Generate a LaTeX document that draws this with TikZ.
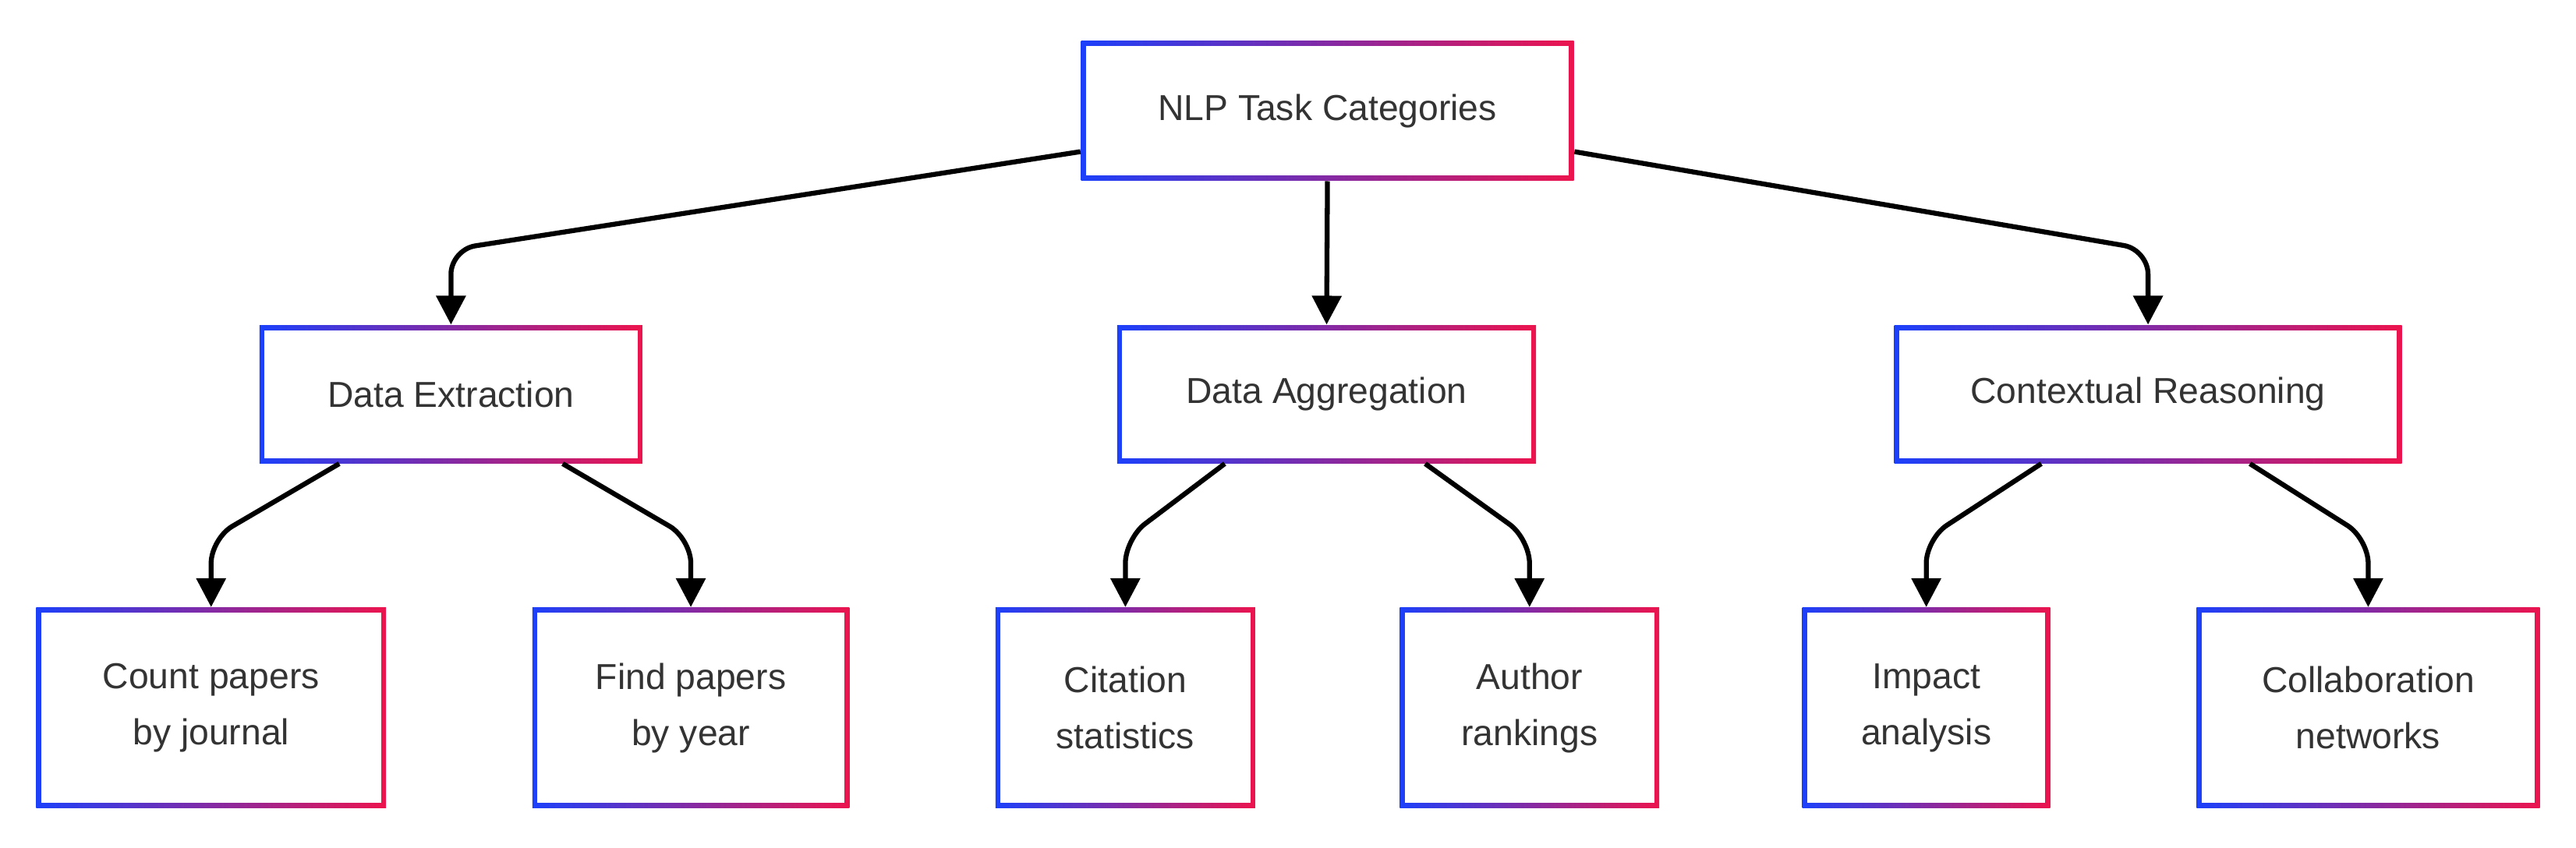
\documentclass[tikz,border=0pt]{standalone}
\usepackage{fontspec}
\setmainfont{Liberation Sans}
\usetikzlibrary{arrows.meta,calc}
\definecolor{nlpblue}{RGB}{28,64,250}
\definecolor{nlpred}{RGB}{236,20,78}
\definecolor{nlptext}{RGB}{51,51,51}
\begin{document}
\begin{tikzpicture}
        [x=0.02cm, y=-0.02cm,
        box/.style={rectangle, left color=nlpblue, right color=nlpred, inner sep=0pt,
          align=center, text=nlptext, font=\fontsize{12.5}{19.5}\selectfont,
          path picture={\fill[white] ([shift={(0.06cm,0.06cm)}]path picture bounding box.south west)
            rectangle ([shift={(-0.06cm,-0.06cm)}]path picture bounding box.north east);}},
        edge/.style={line width=1.7pt, rounded corners=0.3cm, -{Triangle[length=10pt,width=10pt]}}]

        \useasboundingbox (0,0) rectangle (1568,516);

        % Root
        \node[box, minimum width=6cm, minimum height=1.7cm] (root) at (808,67.5) {NLP Task Categories};

        % Categories
        \node[box, minimum width=4.66cm, minimum height=1.68cm] (extr) at (274.5,240) {Data Extraction};
        \node[box, minimum width=5.1cm, minimum height=1.68cm] (aggr) at (807.5,240) {Data Aggregation};
        \node[box, minimum width=6.18cm, minimum height=1.68cm] (ctx) at (1307.5,240) {Contextual Reasoning};

        % Tasks
        \node[box, minimum width=4.26cm, minimum height=2.44cm] (count) at (128.5,431) {Count papers\\by journal};
        \node[box, minimum width=3.86cm, minimum height=2.44cm] (find) at (420.5,431) {Find papers\\by year};
        \node[box, minimum width=3.16cm, minimum height=2.44cm] (cite) at (685,431) {Citation\\statistics};
        \node[box, minimum width=3.16cm, minimum height=2.44cm] (rank) at (931,431) {Author\\rankings};
        \node[box, minimum width=3.02cm, minimum height=2.44cm] (impact) at (1172.5,431) {Impact\\analysis};
        \node[box, minimum width=4.18cm, minimum height=2.44cm] (collab) at (1441.5,431) {Collaboration\\networks};

        % Root to categories
        \draw[edge] ($(root.south west)+(0,-18)$) -- (extr.north |- 0,152) -- (extr.north);
        \draw[edge] (root.south) -- (aggr.north);
        \draw[edge] ($(root.south east)+(0,-18)$) -- (ctx.north |- 0,152) -- (ctx.north);

        % Categories to tasks
        \draw[edge] ($(extr.south)+(-68,0)$) -- (count.north |- 0,328) -- (count.north);
        \draw[edge] ($(extr.south)+(68,0)$) -- (find.north |- 0,328) -- (find.north);
        \draw[edge] ($(aggr.south)+(-62,0)$) -- (cite.north |- 0,328) -- (cite.north);
        \draw[edge] ($(aggr.south)+(60,0)$) -- (rank.north |- 0,328) -- (rank.north);
        \draw[edge] ($(ctx.south)+(-65,0)$) -- (impact.north |- 0,328) -- (impact.north);
        \draw[edge] ($(ctx.south)+(62,0)$) -- (collab.north |- 0,328) -- (collab.north);

    \end{tikzpicture}
\end{document}
